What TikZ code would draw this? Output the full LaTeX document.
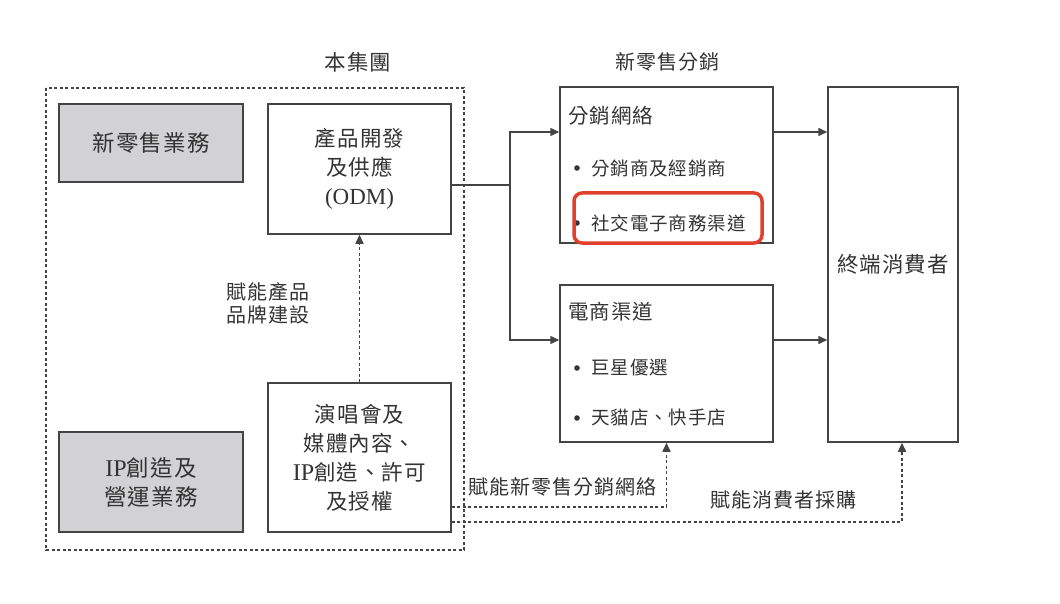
\documentclass[tikz,border=0pt]{standalone}
\usepackage{fontspec}
\setmainfont{Liberation Serif}
\newfontfamily\cjk[LetterSpace=5]{Noto Sans CJK TC}
\newfontfamily\lat{Liberation Serif}
\usetikzlibrary{arrows.meta}
\definecolor{ln}{HTML}{444444}
\definecolor{tx}{HTML}{333333}
\definecolor{gfill}{HTML}{D2D2D4}
\definecolor{hl}{HTML}{E0402C}
\newcommand{\myfs}[2]{\fontsize{#1}{#2}\selectfont}
\begin{document}
\begin{tikzpicture}[x=1pt,y=-1pt,
  box/.style={draw=ln, line width=1.5pt, fill=white, inner sep=0pt, text=tx, align=center, font=\cjk\myfs{21.5}{29}},
  gbox/.style={box, fill=gfill, font=\cjk\myfs{22.5}{29}},
  arr/.style={draw=ln, line width=1.5pt, -{Triangle[length=9pt,width=8pt]}},
  dsh/.style={draw=ln, line width=1.5pt, dash pattern=on 3pt off 2.5pt},
  darr/.style={dsh, -{Triangle[length=9pt,width=8pt]}},
  lbl/.style={text=tx, font=\cjk\myfs{20}{23}, align=center, inner sep=0pt},
  item/.style={text=tx, font=\cjk\myfs{18.5}{22}, anchor=west, inner sep=0pt},
  dot/.style={fill=tx}
]
\useasboundingbox[fill=white] (0,0) rectangle (1060,604);

% group frame
\draw[dsh] (46,88) rectangle (464,550);
\node[lbl, font=\cjk\myfs{21.5}{24}] (t1) at (358,62) {本集團};
\node[lbl, font=\cjk\myfs{20}{24}] (t2) at (667,62) {新零售分銷};

% left boxes
\node[gbox, minimum width=184pt, minimum height=78pt] (retail) at (151,143) {新零售業務};
\node[gbox, minimum width=184pt, minimum height=100pt] (ipb) at (151,482) {{\lat\myfs{24}{29}IP}創造及\\營運業務};
\node[box, minimum width=183pt, minimum height=130pt] (odm) at (359.5,169) {產品開發\\及供應\\{\lat\myfs{23}{29}(ODM)}};
\node[box, minimum width=183pt, minimum height=149pt] (perf) at (359.5,457.5) {演唱會及\\媒體內容、\\{\lat\myfs{24}{29}IP}創造、許可\\及授權};

% right boxes
\node[box, minimum width=213pt, minimum height=156pt] (dist) at (666.5,165) {};
\node[box, minimum width=213pt, minimum height=157pt] (ecom) at (666.5,363.5) {};
\node[box, minimum width=130pt, minimum height=355pt] (cons) at (893,264.5) {終端消費者};

% texts in distribution box
\node[lbl, anchor=west, font=\cjk\myfs{20.5}{24}] (dh) at (568,116) {分銷網絡};
\fill[dot] (577,168) circle (2.8pt);
\node[item] (di1) at (591,168) {分銷商及經銷商};
\fill[dot] (577,223) circle (2.8pt);
\node[item] (di2) at (591,223) {社交電子商務渠道};
\draw[hl, line width=3.5pt, rounded corners=8pt] (574,193) rectangle (762,243);

% texts in e-commerce box
\node[lbl, anchor=west, font=\cjk\myfs{20.5}{24}] (eh) at (568,312) {電商渠道};
\fill[dot] (577,368) circle (2.8pt);
\node[item] (ei1) at (591,368) {巨星優選};
\fill[dot] (577,418) circle (2.8pt);
\node[item] (ei2) at (591,418) {天貓店、快手店};

% labels
\node[lbl] (lb1) at (268,303.5) {賦能產品\\品牌建設};
\node[lbl] (lb2) at (562,487) {賦能新零售分銷網絡};
\node[lbl] (lb3) at (783,500) {賦能消費者採購};

% connectors
\coordinate (split) at (510,185);
\coordinate (row1) at (0,132);
\coordinate (row2) at (0,340);
\coordinate (d1) at (0,507);
\coordinate (d2) at (0,522);
\coordinate (a2) at (902,0);
\draw[ln, line width=1.5pt] (odm.east |- split) -- (split);
\draw[arr] (split) |- (dist.west |- row1);
\draw[arr] (split) |- (ecom.west |- row2);
\draw[arr] (dist.east |- row1) -- (cons.west |- row1);
\draw[arr] (ecom.east |- row2) -- (cons.west |- row2);
\draw[darr] (perf.north) -- (odm.south);
\draw[darr] (perf.east |- d1) -| (ecom.south);
\draw[darr] (perf.east |- d2) -| (a2 |- cons.south);
\end{tikzpicture}
\end{document}
